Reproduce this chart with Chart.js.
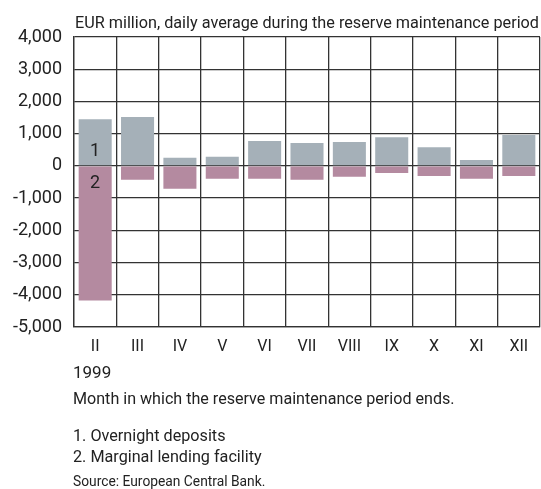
<!DOCTYPE html>
<html>
<head>
<meta charset="utf-8">
<script src="https://cdn.jsdelivr.net/npm/chart.js@4"></script>
<style>
  html, body { margin: 0; padding: 0; background: #fff; }
  #wrap { position: relative; width: 541px; height: 489px; overflow: hidden; }
  #c { position: absolute; left: 0; top: 0; }
  .t { position: absolute; white-space: nowrap; font-family: Roboto, "Noto Sans", sans-serif; color: #222; line-height: 1; transform-origin: 0 0; }
</style>
</head>
<body>
<div id="wrap">
  <canvas id="c" width="541" height="489"></canvas>
  <div class="t" id="title" style="left:75px; font-size:17px;">EUR million, daily average during the reserve maintenance period</div>
  <div class="t" id="year" style="left:73px; font-size:17px;">1999</div>
  <div class="t" id="note" style="left:73px; font-size:16.1px;">Month in which the reserve maintenance period ends.</div>
  <div class="t" id="leg1" style="left:73px; font-size:16.2px;">1. Overnight deposits</div>
  <div class="t" id="leg2" style="left:73px; font-size:16.2px;">2. Marginal lending facility</div>
  <div class="t" id="src" style="left:73px; font-size:13.8px;">Source: European Central Bank.</div>
</div>
<script>
const categories = ['II', 'III', 'IV', 'V', 'VI', 'VII', 'VIII', 'IX', 'X', 'XI', 'XII'];
const overnightDeposits = [1450, 1520, 250, 280, 770, 710, 740, 890, 580, 180, 960];
const marginalLending = [-4180, -430, -710, -400, -400, -430, -340, -220, -310, -400, -310];
const seriesNames = ['1', '2'];
const yMin = -5000;
const yMax = 4000;
const yStep = 1000;

// place text by baseline (Roboto: baseline ~0.842em below top at line-height 1)
function placeBaseline(id, baseline, fitWidth) {
  const el = document.getElementById(id);
  const fs = parseFloat(el.style.fontSize);
  el.style.top = (baseline - 0.842 * fs) + 'px';
  if (fitWidth) {
    const w = el.getBoundingClientRect().width;
    if (w > 0) el.style.transform = 'scaleX(' + (fitWidth / w) + ')';
  }
}
placeBaseline('title', 28, 464);
placeBaseline('year', 378);
placeBaseline('note', 405);
placeBaseline('leg1', 442);
placeBaseline('leg2', 463);
placeBaseline('src', 487);

const barLabels = {
  id: 'barLabels',
  afterDatasetsDraw(chart) {
    const ctx = chart.ctx;
    const m0 = chart.getDatasetMeta(0).data[0];
    const m1 = chart.getDatasetMeta(1).data[0];
    const zero = chart.scales.y.getPixelForValue(0);
    ctx.save();
    ctx.fillStyle = '#222';
    ctx.font = '18px Roboto, sans-serif';
    ctx.textAlign = 'center';
    ctx.textBaseline = 'alphabetic';
    ctx.fillText(seriesNames[0], m0.x, zero - 10);
    ctx.fillText(seriesNames[1], m1.x, zero + 22);
    ctx.restore();
  }
};

new Chart(document.getElementById('c'), {
  type: 'bar',
  data: {
    labels: categories,
    datasets: [
      { label: seriesNames[0], data: overnightDeposits, backgroundColor: '#a5b0b8', borderWidth: 0 },
      { label: seriesNames[1], data: marginalLending, backgroundColor: '#b48aa0', borderWidth: 0 }
    ]
  },
  options: {
    responsive: false,
    animation: false,
    events: [],
    datasets: { bar: { categoryPercentage: 1.0, barPercentage: 0.78 } },
    layout: { padding: { left: 0, right: 1, top: 37, bottom: 132 } },
    plugins: { legend: { display: false }, tooltip: { enabled: false } },
    scales: {
      x: {
        stacked: true,
        grid: { offset: true, drawTicks: false, color: '#333', lineWidth: 1.3 },
        border: { display: true, color: '#333', width: 1.3 },
        ticks: { color: '#222', font: { family: 'Roboto', size: 16 }, padding: 10, maxRotation: 0, autoSkip: false },
        afterFit(s) { s.height = 30; }
      },
      y: {
        stacked: true,
        min: yMin, max: yMax,
        grid: { drawTicks: false, color: '#333', lineWidth: 1.3 },
        border: { display: true, color: '#333', width: 1.3 },
        ticks: {
          stepSize: yStep, color: '#222', padding: 12,
          font: { family: 'Roboto', size: 18 },
          callback: v => v.toLocaleString('en-US')
        },
        afterFit(s) { s.width = 74; }
      }
    }
  },
  plugins: [barLabels]
});
</script>
</body>
</html>
